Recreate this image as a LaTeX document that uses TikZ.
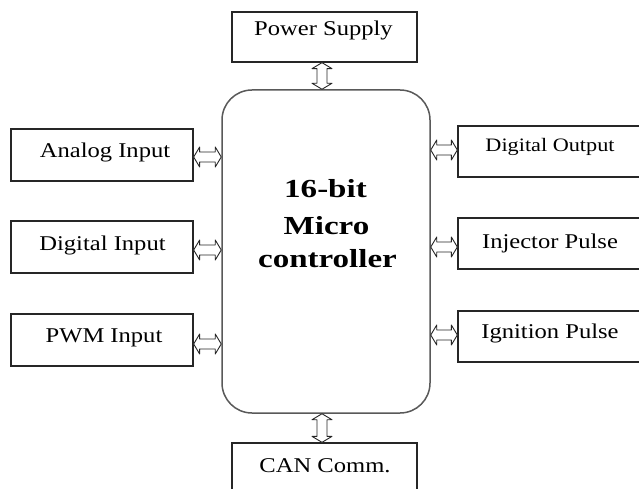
\documentclass[tikz,border=0pt]{standalone}
\usepackage{fontspec}
\setmainfont{Liberation Serif}
\usetikzlibrary{calc}
\tikzset{
  blk/.style={draw=black!85, line width=1.3pt, inner sep=0pt},
  mcbox/.style={draw=black!65, line width=1.5pt, inner sep=0pt, rounded corners=30pt},
  lbl/.style={anchor=base, inner sep=0pt, font=\fontsize{21}{25}\selectfont},
  lblsmall/.style={anchor=base, inner sep=0pt, font=\fontsize{19}{23}\selectfont},
  mctxt/.style={anchor=base, inner sep=0pt, font=\fontsize{26}{30}\selectfont\bfseries},
  dbl/.style={draw=black!85, line width=0.9pt, fill=white, line join=round},
}
\newcommand\sxr[1]{\scalebox{1.17}[1]{#1}}
\newcommand\sxb[1]{\scalebox{1.27}[1]{#1}}
\newcommand\harrow[2]{\draw[dbl] let \p1=#1, \p2=#2 in
  (\x1,\y1) -- (\x1+6pt,\y1+10pt) -- (\x1+6pt,\y1+5pt) -- (\x2-6pt,\y1+5pt) -- (\x2-6pt,\y1+10pt)
  -- (\x2,\y1) -- (\x2-6pt,\y1-10pt) -- (\x2-6pt,\y1-5pt) -- (\x1+6pt,\y1-5pt) -- (\x1+6pt,\y1-10pt) -- cycle;}
\newcommand\varrow[2]{\draw[dbl] let \p1=#1, \p2=#2 in
  (\x1,\y1) -- (\x1+10pt,\y1-6pt) -- (\x1+5pt,\y1-6pt) -- (\x1+5pt,\y2+6pt) -- (\x1+10pt,\y2+6pt)
  -- (\x1,\y2) -- (\x1-10pt,\y2+6pt) -- (\x1-5pt,\y2+6pt) -- (\x1-5pt,\y1-6pt) -- (\x1-10pt,\y1-6pt) -- cycle;}
\begin{document}
\begin{tikzpicture}[x=1pt,y=-1pt]
\useasboundingbox[fill=white] (0,0) rectangle (639,489);
\clip (0,0) rectangle (639,489);
% boxes
\node[blk, minimum width=185pt, minimum height=50pt] (ps) at (324.5,37) {};
\node[mcbox, minimum width=208pt, minimum height=323pt] (mc) at (326,251.5) {};
\node[blk, minimum width=182pt, minimum height=52pt] (ai) at (102,155) {};
\node[blk, minimum width=182pt, minimum height=52pt] (di) at (102,247) {};
\node[blk, minimum width=182pt, minimum height=52pt] (pwm) at (102,340) {};
\node[blk, minimum width=222pt, minimum height=51pt] (do) at (569,151.5) {};
\node[blk, minimum width=222pt, minimum height=51pt] (ip) at (569,243.5) {};
\node[blk, minimum width=222pt, minimum height=51pt] (ig) at (569,336.5) {};
\node[blk, minimum width=185pt, minimum height=52pt] (can) at (324.5,469) {};
% texts
\node[lbl] (pst) at (323.5,36) {\sxr{Power Supply}};
\node[lbl] (ait) at (105,158) {\sxr{Analog Input}};
\node[lbl] (dit) at (102.5,250) {\sxr{Digital Input}};
\node[lbl] (pwmt) at (104,342) {\sxr{PWM Input}};
\node[lblsmall] (dot) at (550,152) {\sxr{Digital Output}};
\node[lbl] (ipt) at (550,248) {\sxr{Injector Pulse}};
\node[lbl] (igt) at (550,338) {\sxr{Ignition Pulse}};
\node[lbl] (cant) at (325,472) {\sxr{CAN Comm.}};
\node[mctxt] (mc1) at (325.5,197) {\sxb{16-bit}};
\node[mctxt] (mc2) at (326.5,234) {\sxb{Micro}};
\node[mctxt] (mc3) at (327.5,267) {\sxb{controller}};
% arrows
\varrow{(ps.south -| 322,0)}{(mc.north -| 322,0)}
\varrow{(mc.south -| 322,0)}{(can.north -| 322,0)}
\harrow{(ai.east |- 0,157)}{(mc.west |- 0,157)}
\harrow{(di.east |- 0,250)}{(mc.west |- 0,250)}
\harrow{(pwm.east |- 0,344)}{(mc.west |- 0,344)}
\harrow{(mc.east |- 0,150)}{(do.west |- 0,150)}
\harrow{(mc.east |- 0,247)}{(ip.west |- 0,247)}
\harrow{(mc.east |- 0,335)}{(ig.west |- 0,335)}
\end{tikzpicture}
\end{document}
